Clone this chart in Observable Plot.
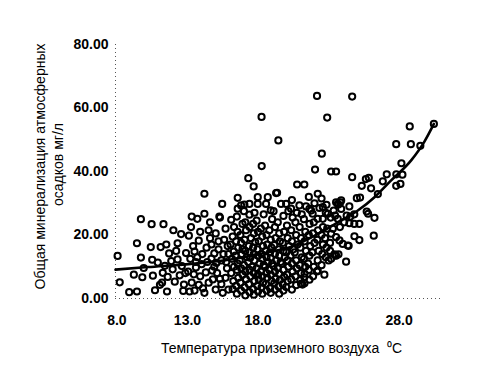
<!DOCTYPE html>
<html>
<head>
<meta charset="utf-8">
<script src="https://cdn.jsdelivr.net/npm/d3@7"></script>
<script src="https://cdn.jsdelivr.net/npm/@observablehq/plot@0.6"></script>
<style>
  html, body { margin: 0; padding: 0; background: #fff; }
  #chart { width: 479px; height: 384px; }
  #chart svg g[aria-label="x-axis tick label"] text,
  #chart svg g[aria-label="y-axis tick label"] text { font-weight: bold; }
</style>
</head>
<body>
<div id="chart"></div>
<script>
// ---- tick labels / titles ----
const xTicks = [8, 13, 18, 23, 28];
const yTicks = [0, 20, 40, 60, 80];
const xDomain = [7.9, 31];
const yDomain = [0, 80];
const xTitle = "Температура приземного воздуха  ⁰C";
const yTitle1 = "Общая минерализация атмосферных";
const yTitle2 = "осадков мг/л";

// ---- scattered high / right points [temperature, mineralization] ----
const pointsSparse = [
  [22.18,63.8],[24.67,63.6],[18.25,57.2],[22.9,57.0],[19.44,49.8],[22.52,45.6],
  [28.75,54.2],[30.46,55.0],[27.79,48.6],[28.83,48.6],[29.5,48.1],
  [18.26,41.7],[22.04,40.6],[23.18,40.0],[23.53,40.0],[28.16,42.6],
  [17.31,37.9],[17.69,35.3],[24.67,38.2],[20.77,35.9],[21.28,35.9],[22.23,33.0],[19.35,33.3],
  [27.12,39.1],[26.84,36.9],[25.85,38.0],[25.64,37.6],[27.79,35.5],[28.09,36.1],[28.23,39.0],[27.8,39.1],
  [25.35,35.5],[26.01,34.7],[26.49,32.9],[25.0,31.6],[25.23,31.8],
  [26.2,19.8],[26.25,25.4],[25.7,27.4],[25.8,26.7],[24.83,19.6],[25.18,18.4],[24.42,16.6],[24.24,11.6],
  [23.48,13.6],[23.7,13.9],[23.0,12.0],[22.18,8.5],[21.64,5.9],[21.29,4.8],[21.15,4.4],
  [24.47,29.0],[23.65,29.8],[23.83,30.3],[23.89,28.2],[23.7,29.6],
  [14.2,33.0],[15.46,29.8],[13.3,25.8],[13.7,25.1]
];

// ---- cool side (below 13 °C) ----
const pointsWest = [
  [8.05,13.4],[8.2,5.1],[8.87,2.0],[9.42,2.2],[9.7,25.0],[10.46,23.4],[11.3,23.4],[9.42,17.4],
  [10.4,16.2],[9.7,12.9],[10.5,12.2],[9.2,7.5],[9.8,6.7],[9.9,9.6],[10.55,7.2],[10.7,2.6],
  [11.05,4.3],[11.2,5.0],[11.55,2.2],[11.1,16.2],[11.5,17.0],[12.3,17.4],[12.0,21.5],[12.55,20.3],
  [11.7,14.2],[11.85,11.8],[11.4,10.3],[11.95,9.2],[10.9,11.3],[11.25,8.1],[12.3,12.3],[12.45,7.3],
  [12.1,5.3],[12.75,4.4],[12.7,2.4],[12.9,14.3],[12.6,10.2],[12.85,8.0],[12.2,15.0],[11.6,6.8]
];

// ---- 13–16 °C ----
const pointsMid = [
  [13.1,19.8],[13.4,16.5],[13.8,18.2],[14.5,21.5],[14.05,14.0],[13.2,12.5],[13.6,9.8],[13.9,7.0],
  [13.3,5.0],[13.5,2.5],[14.1,3.2],[14.4,11.5],[14.7,17.0],[14.9,14.2],[14.3,8.2],[14.8,6.0],
  [15.0,2.8],[14.6,24.0],[15.0,20.5],[13.05,8.5],[13.7,13.0],[14.9,10.0],[14.35,16.0],[15.3,25.5],
  [15.2,15.5],[15.4,12.0],[15.1,8.0],[15.4,4.5],[15.6,18.5],[15.7,22.0],[15.8,9.5],[15.9,14.0],
  [15.9,2.8],[15.7,6.5],[15.26,25.8],[14.2,26.7],[13.25,22.5],[13.9,21.0],[14.6,19.0],[13.5,14.8],
  [14.0,10.8],[14.7,12.6],[13.8,4.3],[14.5,5.0],[14.2,1.8],[15.2,18.0],[15.5,1.8],[15.55,14.0],
  [15.05,11.2],[15.3,6.2],[13.15,2.2],[13.6,11.5],[14.75,8.8],[15.75,11.5],[15.85,16.5],[13.45,7.6]
];

// ---- 16–19 °C (densest) ----
const pointsCore = [
  [16.2,3.0],[16.25,5.5],[16.1,8.0],[16.3,10.0],[16.15,12.5],[16.28,14.8],[16.05,17.0],[16.2,19.5],[16.3,22.5],[16.1,24.8],
  [16.5,1.5],[16.45,4.0],[16.6,6.5],[16.5,9.0],[16.55,11.0],[16.4,13.5],[16.6,16.0],[16.45,18.0],[16.55,21.0],[16.56,28.3],[16.56,31.7],[16.5,25.8],
  [16.8,2.5],[16.75,5.0],[16.9,7.5],[16.8,9.5],[16.7,12.0],[16.85,14.0],[16.9,15.5],[16.8,17.5],[16.75,20.0],[16.9,23.5],[16.8,29.3],
  [17.1,1.0],[17.05,3.5],[17.15,6.0],[17.1,8.5],[17.0,10.5],[17.2,13.0],[17.1,15.0],[17.05,18.5],[17.15,21.5],[17.1,24.0],[17.0,27.5],[17.03,29.6],
  [17.4,2.0],[17.35,4.5],[17.45,7.0],[17.4,9.0],[17.3,11.5],[17.45,12.8],[17.4,14.5],[17.35,16.5],[17.5,19.0],[17.4,22.5],[17.39,26.4],[17.39,29.8],
  [17.7,1.2],[17.65,3.0],[17.75,5.5],[17.7,8.0],[17.6,10.0],[17.75,12.0],[17.7,14.0],[17.65,16.0],[17.8,17.8],[17.7,20.5],[17.65,23.5],[17.75,27.0],
  [18.0,2.2],[17.95,4.0],[18.05,6.0],[18.0,7.5],[17.9,9.5],[18.1,11.0],[18.0,13.5],[17.95,15.5],[18.05,18.0],[18.0,21.0],[17.9,24.5],[17.98,29.8],[17.98,31.9],
  [18.3,1.5],[18.25,3.5],[18.35,5.0],[18.3,7.0],[18.2,8.5],[18.4,10.5],[18.3,12.5],[18.25,14.0],[18.35,16.5],[18.3,19.5],[18.2,22.0],[18.4,26.5],
  [18.6,2.5],[18.55,4.5],[18.65,6.5],[18.6,8.0],[18.5,10.0],[18.7,11.5],[18.6,13.0],[18.55,15.0],[18.65,17.0],[18.6,20.0],[18.5,23.0],[18.57,29.8],[18.69,31.9],
  [18.9,1.8],[18.85,3.2],[18.95,5.5],[18.9,7.5],[18.8,9.0],[19.0,11.0],[18.9,12.8],[18.85,14.5],[18.95,16.0],[18.9,18.5],[18.8,21.5],[19.0,25.0],[18.9,27.8]
];

// ---- 19–25 °C ----
const pointsEast = [
  [19.2,2.8],[19.15,4.8],[19.25,6.2],[19.2,8.5],[19.1,10.2],[19.3,12.0],[19.2,14.0],[19.15,16.8],[19.25,19.0],[19.2,22.5],[19.1,27.5],[19.28,33.2],
  [19.5,1.5],[19.45,3.8],[19.55,5.8],[19.5,7.8],[19.4,9.5],[19.6,11.5],[19.5,13.5],[19.45,15.5],[19.55,18.0],[19.5,20.5],[19.4,24.0],[19.63,29.8],
  [19.8,2.5],[19.75,4.5],[19.85,6.8],[19.8,9.0],[19.7,11.0],[19.9,13.0],[19.8,15.0],[19.75,17.5],[19.85,21.0],[19.8,26.0],[19.99,29.8],[19.99,3.6],
  [20.1,5.5],[20.05,7.5],[20.15,10.0],[20.1,12.0],[20.0,14.5],[20.2,16.5],[20.1,19.0],[20.05,23.0],[20.15,27.5],[20.34,28.3],
  [20.4,2.8],[20.35,6.0],[20.45,8.5],[20.4,11.0],[20.3,13.5],[20.5,15.5],[20.4,18.0],[20.35,21.5],[20.45,25.5],[20.4,31.0],
  [20.7,4.2],[20.65,7.0],[20.75,9.5],[20.7,12.0],[20.6,14.5],[20.8,17.0],[20.7,20.0],[20.65,24.0],[20.93,29.3],[20.75,27.0],
  [21.0,5.8],[21.05,8.0],[20.95,10.5],[21.1,13.0],[21.0,16.0],[21.05,19.0],[20.95,22.5],[21.1,26.5],[21.05,4.6],[21.28,6.7],
  [21.3,7.8],[21.35,10.0],[21.25,12.5],[21.4,15.0],[21.3,18.0],[21.35,21.0],[21.25,25.0],[21.4,29.0],
  [21.64,13.5],[21.6,9.0],[21.55,11.0],[21.7,16.5],[21.6,20.0],[21.65,23.5],[21.76,27.7],[21.6,32.0],[21.64,28.2],[21.87,26.7],
  [21.9,7.0],[21.95,10.0],[21.85,14.5],[22.0,17.5],[21.9,20.5],[21.95,24.0],[22.0,30.0],
  [22.23,8.8],[22.23,12.0],[22.3,15.0],[22.2,18.5],[22.25,21.5],[22.23,25.1],[22.35,28.5],
  [22.59,25.1],[22.5,10.5],[22.55,14.0],[22.6,17.0],[22.5,20.0],[22.6,22.5],[22.5,31.5],[22.59,28.8],
  [22.8,13.0],[22.85,16.0],[22.75,19.0],[22.9,22.0],[22.8,27.0],[22.85,29.5],[22.95,26.7],
  [23.18,12.5],[23.53,13.5],[23.1,17.5],[23.18,20.4],[23.3,22.0],[23.15,25.5],[23.36,27.7],[23.46,26.1],
  [23.53,30.3],[23.89,30.9],[23.53,19.3],[23.77,18.3],[24.0,17.2],[24.36,16.7],[23.41,13.9],[23.65,25.1],
  [23.8,22.5],[24.1,24.0],[24.28,26.1],[24.54,25.8],[24.82,26.5],[24.47,23.7],[24.82,23.5],[25.18,23.5],
  [23.1,15.0],[22.7,7.5]
];

// ---- fitted curve ----
const curveTemp = [7.9, 10.2, 13.25, 16.5, 18.3, 20.3, 22.47, 23.89, 25.07, 26.25, 27.43, 28.85, 29.8, 30.46];
const curveMin  = [9.1, 9.9, 10.9, 12.6, 14.2, 16.2, 20.9, 24.6, 27.7, 31.9, 37.2, 43.5, 49.5, 55.0];

// ---- build ----
const allPoints = [...pointsWest, ...pointsMid, ...pointsCore, ...pointsEast, ...pointsSparse]
  .map(([t, m]) => ({t, m}));
const curve = curveTemp.map((t, i) => ({t, m: curveMin[i]}));

const chart = Plot.plot({
  width: 479,
  height: 384,
  marginLeft: 115,
  marginRight: 38,
  marginTop: 44,
  marginBottom: 86,
  style: {fontFamily: "'Liberation Sans', Arial, sans-serif", fontSize: "14px", background: "#fff", color: "#000"},
  x: {domain: xDomain, ticks: xTicks, tickFormat: d => d.toFixed(1), tickSize: 0, tickPadding: 17, label: null},
  y: {domain: yDomain, ticks: yTicks, tickFormat: d => d.toFixed(2), tickSize: 0, tickPadding: 7, label: null},
  marks: [
    Plot.ruleX([xDomain[0]], {stroke: "#555", strokeDasharray: "1,3", strokeWidth: 1}),
    Plot.ruleY([yDomain[0]], {stroke: "#555", strokeDasharray: "1,3", strokeWidth: 1}),
    Plot.dot(allPoints, {x: "t", y: "m", r: 3.1, stroke: "#000", strokeWidth: 2, fill: "none"}),
    Plot.line(curve, {x: "t", y: "m", curve: "monotone-x", stroke: "#000", strokeWidth: 2.6}),
    Plot.text([xTitle], {text: d => d, frameAnchor: "bottom", textAnchor: "middle", dx: 3, dy: 54, fontSize: 14}),
    Plot.text([yTitle1], {text: d => d, frameAnchor: "left", textAnchor: "middle", rotate: -90, dx: -75, dy: -5, fontSize: 14}),
    Plot.text([yTitle2], {text: d => d, frameAnchor: "left", textAnchor: "middle", rotate: -90, dx: -57, dy: -7, fontSize: 14})
  ]
});
document.getElementById("chart").appendChild(chart);
</script>
</body>
</html>
